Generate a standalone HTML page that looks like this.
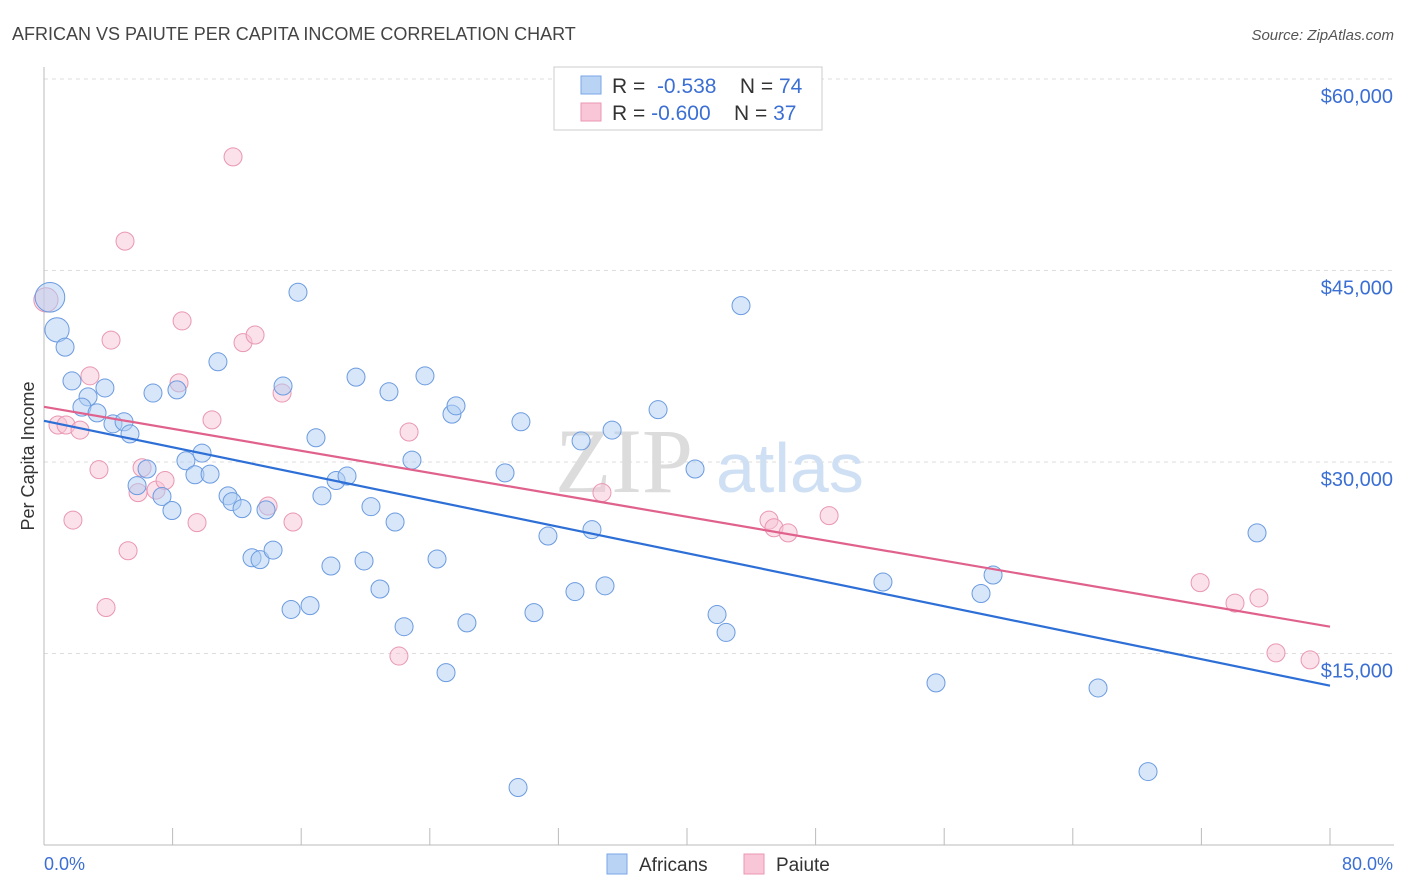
<!DOCTYPE html>
<html><head><meta charset="utf-8">
<style>
body{margin:0;background:#fff;font-family:"Liberation Sans",sans-serif;}
svg{display:block}
</style></head>
<body>
<svg id="chart" width="1406" height="892" xmlns="http://www.w3.org/2000/svg">
<text x="12" y="40" font-size="18" fill="#444">AFRICAN VS PAIUTE PER CAPITA INCOME CORRELATION CHART</text>
<text x="1394" y="40" font-size="15" fill="#555" font-style="italic" text-anchor="end">Source: ZipAtlas.com</text>
<g id="grid"></g>
<g>
<text x="555" y="492" font-size="92" fill="#dcdcdc" font-family="Liberation Serif,serif">ZIP</text>
<text x="716" y="492" font-size="70" fill="#d0e0f4">atlas</text>
</g>
<line x1="44" y1="67" x2="44" y2="845" stroke="#bbb"/>
<line x1="44" y1="845" x2="1394" y2="845" stroke="#bbb"/>
<g id="xticks"></g>
<g id="ylabels"></g>
<text x="44" y="870" font-size="18" fill="#3b6fd4">0.0%</text>
<text x="1393" y="870" font-size="18" fill="#3b6fd4" text-anchor="end">80.0%</text>
<text transform="translate(34,456) rotate(-90)" font-size="18" fill="#333" text-anchor="middle">Per Capita Income</text>
<g id="pinkPts"></g>
<g id="bluePts"></g>
<g id="lines"></g>
<g>
<rect x="554" y="67" width="268" height="63" fill="#fff" stroke="#ccc"/>
<rect x="581" y="76" width="20" height="18" fill="#b9d3f5" stroke="#7aa6e6"/>
<rect x="581" y="103" width="20" height="18" fill="#f8c6d6" stroke="#ec97b3"/>
<text x="612" y="93" font-size="21" fill="#333">R = <tspan fill="#3b6fd4">&#160;-0.538</tspan>&#160;&#160;&#160;&#160;N = <tspan fill="#3b6fd4">74</tspan></text>
<text x="612" y="120" font-size="21" fill="#333">R = <tspan fill="#3b6fd4">-0.600</tspan>&#160;&#160;&#160;&#160;N = <tspan fill="#3b6fd4">37</tspan></text>
</g>
<g>
<rect x="607" y="854" width="20" height="20" fill="#b9d3f5" stroke="#7aa6e6"/>
<text x="639" y="871" font-size="19" fill="#333">Africans</text>
<rect x="744" y="854" width="20" height="20" fill="#f8c6d6" stroke="#ec97b3"/>
<text x="776" y="871" font-size="19" fill="#333">Paiute</text>
</g>
</svg>
<script>
const yTicks=[15000,30000,45000,60000];
const yTickLabels=["$15,000","$30,000","$45,000","$60,000"];
const xTicks=[0,8,16,24,32,40,48,56,64,72,80];
const blueX=[0.37,0.81,1.31,1.74,2.74,2.36,3.30,3.79,4.29,4.98,5.35,5.79,6.41,7.34,7.96,6.78,8.27,8.83,9.39,9.83,10.33,10.82,11.45,11.70,12.32,12.94,13.44,13.81,14.25,14.87,15.37,15.80,16.55,16.92,17.29,17.85,18.17,18.85,19.41,19.91,20.34,20.90,21.46,21.84,22.40,22.89,23.70,24.45,25.01,25.38,25.63,26.31,28.68,29.49,29.67,30.48,31.35,33.03,33.41,34.09,34.90,35.34,38.20,40.50,41.87,42.43,43.36,52.19,55.49,58.29,59.04,65.57,68.68,75.46];
const blueY=[42900,40350,39000,36350,35100,34300,33850,35800,32990,33150,32200,28150,29450,27300,26200,35400,35650,30100,29000,30700,29050,37850,27350,26900,26350,22500,22350,26250,23100,35950,18450,43300,18750,31900,27350,21850,28550,28900,36650,22250,26500,20050,35500,25300,17100,30150,36750,22400,13500,33750,34400,17400,29150,4500,33150,18200,24200,19850,31650,24700,20300,32500,34100,29450,18050,16650,42250,20600,12700,19700,21150,12300,5750,24450];
const blueW=[3,2];
const pinkX=[0.12,0.87,1.37,1.80,2.24,2.86,3.42,3.86,4.17,5.04,5.23,5.85,6.10,6.97,7.53,8.40,8.59,9.52,10.45,11.76,12.38,13.13,13.94,14.81,15.49,22.08,22.71,34.71,45.10,45.41,46.29,48.84,71.92,74.09,75.58,76.64,78.76];
const pinkY=[42700,32900,32900,25450,32500,36750,29400,18600,39550,47300,23050,27600,29550,27800,28550,36200,41050,25250,33300,53900,39350,39950,26550,35400,25300,14800,32350,27600,25450,24850,24450,25800,20550,18950,19350,15050,14500];
const pinkW=[2];
const blueLine=[33225,12478];
const pinkLine=[34320,17100];

const NS="http://www.w3.org/2000/svg";
const X=v=>44+v/80*1286;
const Y=v=>845-v/60000*766;
function mk(tag,attrs,parent){const e=document.createElementNS(NS,tag);for(const k in attrs)e.setAttribute(k,attrs[k]);parent.appendChild(e);return e;}
const grid=document.getElementById('grid');
yTicks.forEach((t,i)=>{
  const l=mk('line',{x1:44,x2:1394,y1:Y(t),y2:Y(t),stroke:'#ddd','stroke-dasharray':'4,4'},grid);
  
  
  const tx=mk('text',{x:1393,y:Y(t)+24,'font-size':20,fill:'#3b6fd4','text-anchor':'end'},document.getElementById('ylabels'));
  tx.textContent=yTickLabels[i];
  
  
});
xTicks.forEach(t=>{
  if(t===0)return;
  const l=mk('line',{x1:X(t),x2:X(t),y1:828,y2:845,stroke:'#bbb'},document.getElementById('xticks'));
  
  
});
function pts(xs,ys,ws,g,fill,stroke,name){
  xs.forEach((x,i)=>{
    const r=ws[i]?9*Math.sqrt(ws[i])*0.95:9;
    const c=mk('circle',{cx:X(x),cy:Y(ys[i]),r:r,fill:fill,'fill-opacity':0.5,stroke:stroke,'stroke-width':1},g);
    
    
  });
}
pts(pinkX,pinkY,pinkW,document.getElementById('pinkPts'),'#f7c3d5','#e997b2','paiute-point');
pts(blueX,blueY,blueW,document.getElementById('bluePts'),'#b0cdf3','#6b9be0','africans-point');
const lg=document.getElementById('lines');
const pl=mk('line',{x1:X(0),y1:Y(pinkLine[0]),x2:X(80),y2:Y(pinkLine[1]),stroke:'#e0628c','stroke-width':2.2},lg);


const bl=mk('line',{x1:X(0),y1:Y(blueLine[0]),x2:X(80),y2:Y(blueLine[1]),stroke:'#2d6fd6','stroke-width':2.2},lg);


</script>
</body></html>
